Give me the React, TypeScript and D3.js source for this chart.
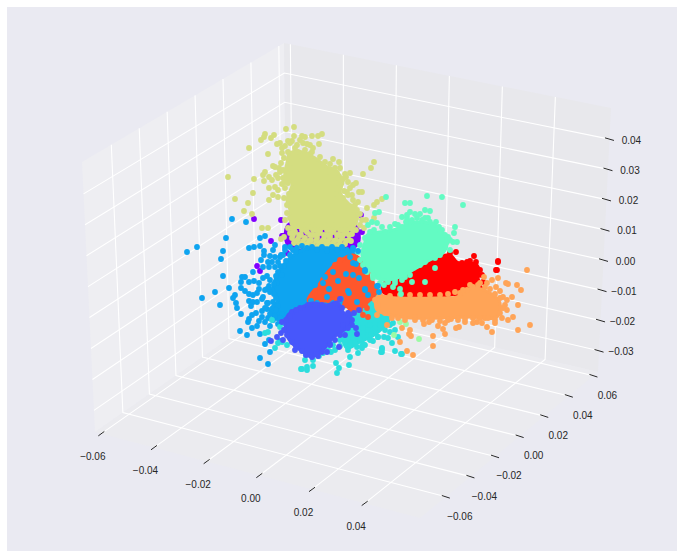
import React from "react";
import * as d3 from "d3";

type Pt = [number, number];

const WIDTH = 683;
const HEIGHT = 558;

// axis ranges and ticks
const xRange = [-0.0624, 0.061];
const yRange = [-0.081, 0.0637];
const zRange = [-0.037, 0.0503];
const xTicks = [-0.06, -0.04, -0.02, 0, 0.02, 0.04];
const yTicks = [-0.06, -0.04, -0.02, 0, 0.02, 0.04, 0.06];
const zTicks = [-0.03, -0.02, -0.01, 0, 0.01, 0.02, 0.03, 0.04];

// The clusters are read in the projected view plane: u to the right, v upward.
const purpleCore: Pt[] = [[-52,55],[15,55],[17,35],[-50,32]];
const purpleDots: Pt[] = [[-86,61],[-59,60],[-69,39],[-58,44],[13,41],[15,42],[-57,44],[-83,14],[-80,9],[-53,27],[-43,26],[-47,20],[-48,15],[14,41],[22,48],[32,47],[21,65]];

const khakiCore: Pt[] = [[-50,127],[-37,128],[-25,122],[-13,113],[-5,110],[3,98],[0,88],[8,77],[15,72],[17,60],[13,53],[-20,52],[-48,55],[-50,70],[-53,80],[-48,97],[-55,103],[-53,117]];
const khakiDots: Pt[] = [[-46,153],[-54,151],[-75,146],[-76,143],[-66,145],[-69,142],[-79,140],[-38,144],[-35,143],[-46,144],[-52,139],[-48,139],[-28,144],[-22,144],[-18,146],[-60,137],[-63,136],[-91,132],[-72,126],[-58,132],[-58,127],[-43,135],[-37,137],[-33,136],[-21,136],[-27,132],[-28,128],[-7,121],[-1,118],[34,118],[31,112],[23,106],[-112,103],[-86,101],[-77,105],[-75,108],[-76,99],[-71,103],[-67,114],[-65,113],[-59,117],[10,107],[6,103],[16,97],[13,95],[8,85],[-71,92],[-87,87],[-65,93],[-62,90],[-67,85],[-62,83],[-71,80],[-105,81],[-92,77],[-96,69],[-88,66],[-78,52],[-72,52],[19,88],[22,88],[18,78],[27,72],[37,78],[42,81],[34,75],[34,62],[-59,41],[-56,43],[-52,52],[-53,67],[-50,137],[-52,128],[-57,110],[-20,123],[-3,107],[3,101],[-3,97],[4,89],[-5,86],[13,80],[12,70],[20,66],[-62,102],[-55,92],[-57,102],
[-56,122],[-60,108],[-64,105],[-52,112],[-55,98],[-58,96],[-51,86],[-56,82],[-53,75],[-50,62],[-55,60],[-48,112],[-40,124],[-30,126],[-35,130],[-42,128],[-45,132],[-55,134],[-40,140],[-30,135],[-15,118],[-10,116],[-5,112],[0,112],[-12,108],[5,106],[8,98],[10,92],[7,88],[3,82],[12,85],[15,75],[17,70],[22,60],[20,55],[24,52],[16,62],[26,60],[-52,97],[-61,112],[-68,100],
[-48,52],[-43,54],[-38,50],[-30,53],[-24,50],[-17,53],[-10,50],[-4,53],[3,50],[10,52],[16,50],
[-44,55],[-36,55],[-26,55],[-14,55],[-6,55],[6,55],
[-46,50],[-34,50],[-27,50],[-20,50],[-13,50],[-6,50],[0,50],[7,50],[13,50],
[-50,47],[-45,48],[-39,45],[-33,48],[-27,45],[-20,47],[-13,45],[-7,48],[-1,45],[6,47],[12,46],
[-47,45],[-41,45],[-30,45],[-23,45],[-16,45],[-10,45],[-3,45],[3,45],[9,45],
[-48,42],[-42,41],[-35,42],[-29,40],[-23,42],[-16,41],[-10,42],[-4,40],[2,42],[9,40],
[-44,39],[-37,39],[-31,39],[-24,39],[-18,39],[-12,39],[-6,39],[0,39],[6,39],[11,39],
[-46,37],[-40,36],[-33,36],[-27,35],[-20,37],[-14,36],[-8,36],[-1,35],[5,36],
[-41,34],[-35,34],[-28,34],[-22,34],[-16,34],[-10,34],[-4,34],[2,34]];

const blueCore: Pt[] = [[-60,10],[-50,22],[-37,30],[7,30],[17,23],[25,0],[15,-25],[-27,-23],[-50,-33],[-62,-40],[-70,-30],[-62,-20],[-67,-7]];
const blueDots: Pt[] = [[-108,61],[-94,58],[-114,42],[-143,33],[-153,28],[-117,29],[-119,21],[-117,4],[-111,-8],[-125,-12],[-138,-18],[-120,-25],[-80,42],[-75,44],[-80,34],[-91,32],[-86,33],[-76,29],[-76,25],[-79,20],[-70,24],[-65,23],[-59,25],[-65,35],[-67,30],[-55,33],[-87,8],[-77,13],[-71,13],[-65,13],[-73,4],[-77,2],[-98,3],[-95,3],[-99,-2],[-91,-2],[-86,-1],[-81,-3],[-99,-8],[-95,-11],[-91,-14],[-87,-15],[-81,-9],[-71,-6],[-73,-9],[-83,-13],[-105,-15],[-107,-18],[-104,-23],[-103,-28],[-91,-21],[-87,-22],[-83,-22],[-89,-26],[-78,-19],[-73,-23],[-99,-34],[-84,-33],[-78,-31],[-73,-29],[-88,-35],[-91,-39],[-92,-42],[-81,-41],[-83,-46],[-88,-48],[-100,-51],[-93,-55],[-80,-54],[-75,-42],[-70,-46],[-75,-64],[-71,-60],[-70,-72],[-80,-78],[-72,-84],[-60,-61],
[-70,0],[-63,-3],[-77,-17],[-72,-23],[-67,-32],[-72,-38],[-57,25],[-47,30],[-60,23],[-43,32],[-33,32],[-23,30],[-13,29],[-3,30],[7,30],[13,30],
[-62,8],[-64,4],[-66,-4],[-68,-10],[-66,-14],[-64,-18],[-67,-22],[-62,-26],[-64,-30],[-58,-34],[-60,-38],[-65,-36],[-56,14],[-54,19],[-60,14],[-50,25],[-44,28],[-58,5],[-55,30],[-50,33],[-38,34],[-28,33],[-18,33],[-8,33],[2,33],[-70,-12],[-75,-10],[-75,-28],[-70,-34],[-78,-37],[-67,-40],[-62,-44],[-68,18],[-62,18],[-72,18]];
const blueFront: Pt[] = [[-7,8],[6,6],[13,5],[19,2],[25,10],[-15,3],[-17,-3],[-2,-1],[-11,-9],[8,-11],[9,-13],[25,-9],[28,-15],[-13,-17],[-29,-21],[-23,-23],[1,-19],[17,-22],[37,-6],[39,-12],[-25,-5],[13,32],[18,29],[10,23],[13,17],[16,16],[25,9],[25,-10],[38,-6]];

const cyanCore: Pt[] = [[15,-25],[37,-15],[47,-25],[50,-38],[37,-53],[20,-62],[7,-68],[3,-55]];
const cyanDots: Pt[] = [[-39,-89],[-33,-87],[-27,-86],[-35,-80],[-34,-75],[-27,-80],[-21,-76],[-17,-73],[-9,-72],[-4,-83],[-1,-88],[-3,-93],[9,-85],[8,-70],[10,-77],[18,-73],[17,-67],[22,-66],[23,-64],[31,-55],[23,-57],[38,-57],[44,-57],[48,-58],[42,-69],[41,-72],[55,-71],[62,-74],[52,-63],[0,-60],[-7,-65],[40,-45],[23,-48],[-57,-43],[-58,-62],[-53,-65],[53,-43],[-68,-40],[-75,-53],[-72,-52],[-60,-47],[-65,-68],[-62,-63],[-33,-90],[-38,-89],[42,-68],[42,-72],[61,-74],[33,-61],[38,-57],[25,-65],[22,-68],[20,-60],[43,-40],[50,-45],
[10,-45],[15,-55],[28,-50],[35,-48],[45,-35],[50,-33],[45,-50],[30,-60],[15,-63],[10,-65],[5,-62],[0,-66],[-5,-70],[-12,-70],[-20,-70],[13,-58],[35,-20],[42,-20],[40,-28],[55,-50],[58,-57],[30,-45],[50,-52]];

const orangeRedCore: Pt[] = [[-3,17],[13,25],[25,15],[30,0],[37,-10],[30,-20],[13,-32],[0,-18],[-20,-22],[-32,-20],[-20,-3],[-13,7]];
const orangeRedDots: Pt[] = [[27,-28],[23,-35],[28,-37],[-28,-18],[-25,-12],[-20,-8],[-17,0],[-10,8],[-5,15],[0,20],[8,22],[15,22],[22,18],[28,8],[32,-3],[35,-12],[33,-18],[25,-25],[20,-30],[10,-32],[5,-25],[-3,-20],[-12,-20],[-22,-20],[-30,-21]];

const lightGreenDots: Pt[] = [[54,-55],[79,-59],[66,-44],[60,-42]];

const redCore: Pt[] = [[75,13],[90,20],[110,25],[117,18],[137,15],[138,2],[140,-8],[110,-15],[77,-17],[43,-12],[45,-2],[67,7]];
const redDots: Pt[] = [[116,28],[134,24],[158,19],[156,10],[136,18],[137,12],[141,-9],[117,-16],[121,-16],[127,18],[122,17],[110,27],[97,20],[135,-2],[138,5],[133,-8],[127,-12],[97,-17],[73,-13],[158,18],[157,10],
[70,10],[80,17],[85,20],[103,22],[125,15],[130,19],[140,10],[142,5],[143,-2],[138,-10],[130,-12],[120,-14],[105,-17],[90,-18],[83,-18],[60,-15],[50,-14]];

const orangeCore: Pt[] = [[37,-17],[57,-18],[97,-18],[117,-17],[133,-8],[150,-13],[160,-23],[157,-37],[130,-37],[100,-38],[70,-38],[50,-35],[37,-30]];
const orangeDots: Pt[] = [[187,10],[144,3],[152,0],[158,2],[147,-3],[166,-3],[168,-4],[177,-5],[181,-10],[156,-7],[160,-11],[163,-17],[172,-17],[167,-20],[178,-25],[165,-25],[167,-30],[173,-37],[168,-40],[162,-38],[190,-45],[178,-50],[152,-52],[147,-47],[142,-43],[137,-42],[133,-43],[125,-42],[119,-47],[116,-48],[111,-39],[105,-43],[105,-54],[103,-49],[98,-46],[93,-56],[93,-66],[89,-42],[84,-44],[75,-37],[70,-50],[69,-54],[71,-56],[62,-48],[60,-62],[67,-71],[73,-75],[47,-45],[37,-35],[155,-43],[145,-38],[120,-13],[127,-10],[133,-7],[140,-3],
[40,-15],[50,-16],[60,-15],[70,-15],[80,-15],[90,-15],[100,-15],[108,-14],[115,-12],[123,-10],[130,-5],[138,-5],[145,-7],[150,-9],[155,-14],[160,-18],[163,-28],[160,-33],[155,-40],[148,-38],[140,-38],[133,-38],[125,-39],[118,-40],[108,-40],[100,-41],[92,-40],[83,-40],[75,-40],[65,-40],[58,-38],[52,-38],[45,-33],[38,-25],[35,-20]];

const mintCore: Pt[] = [[27,45],[53,50],[77,58],[98,53],[107,37],[103,27],[90,20],[73,10],[60,3],[43,0],[30,10],[22,25],[25,38]];
const mintDots: Pt[] = [[46,83],[65,77],[70,77],[87,84],[102,83],[123,75],[85,70],[90,69],[70,68],[67,65],[39,68],[35,67],[55,56],[32,58],[37,57],[42,53],[28,55],[77,62],[82,60],[90,58],[99,53],[115,53],[114,47],[108,43],[113,38],[117,38],[107,38],[110,30],[95,12],[85,-2],[72,-2],[60,-9],[53,-7],[44,-5],[62,0],[55,0],[67,62],[70,58],[61,-14],
[30,48],[34,50],[25,42],[20,35],[18,28],[20,20],[23,15],[27,8],[33,5],[38,3],[45,48],[50,53],[58,55],[62,53],[66,58],[72,60],[62,63],[75,66],[80,66],[85,62],[93,55],[96,58],[102,50],[105,45],[110,40],[100,48],[88,62],[105,33],[100,25],[95,22],[85,18],[80,15],[70,5],[65,3],[55,-3],[48,-2],[40,-3],[33,2]];

const indigoCore: Pt[] = [[-55,-45],[-52,-35],[-38,-27],[-27,-23],[-13,-25],[-3,-22],[3,-32],[12,-42],[7,-48],[-7,-58],[-17,-70],[-27,-76],[-40,-70],[-52,-58]];
const indigoDots: Pt[] = [[-48,-32],[-40,-28],[0,-19],[19,-30],[16,-48],[17,-54],[-1,-67],[-13,-72],[-28,-77],[-59,-53],[-57,-60],[14,-33],[10,-35],[3,-45],[12,-45],[-63,-57],[-69,-61],[-45,-70],[-34,-75],[-10,-64],[5,-55],[-58,-42],[-22,-76],
[-54,-40],[-56,-50],[-53,-55],[-48,-62],[-44,-66],[-38,-71],[-30,-75],[-24,-74],[-18,-72],[-10,-65],[-5,-60],[0,-55],[8,-48],[12,-40],[8,-33],[2,-28],[-5,-24],[-10,-26],[-18,-25],[-25,-25],[-32,-25],[-44,-30],[-50,-36]];

// matplotlib "rainbow" colour steps used by the ten classes
const PURPLE = "#8000ff", INDIGO = "#4757fb", BLUE = "#0ea4f0", CYAN = "#2bdddd", MINT = "#63fbc3",
  LIGHTGREEN = "#9cfba4", KHAKI = "#d4dd80", ORANGE = "#ffa457", ORANGERED = "#ff572c", RED = "#ff0000";

const layers: { color: string; core?: Pt[]; dots: Pt[] }[] = [
  { color: PURPLE, core: purpleCore, dots: purpleDots },
  { color: KHAKI, core: khakiCore, dots: khakiDots },
  { color: BLUE, core: blueCore, dots: blueDots },
  { color: CYAN, core: cyanCore, dots: cyanDots },
  { color: ORANGERED, core: orangeRedCore, dots: orangeRedDots },
  { color: LIGHTGREEN, dots: lightGreenDots },
  { color: RED, core: redCore, dots: redDots },
  { color: ORANGE, core: orangeCore, dots: orangeDots },
  { color: MINT, core: mintCore, dots: mintDots },
  { color: BLUE, dots: blueFront },
  { color: INDIGO, core: indigoCore, dots: indigoDots },
];

const viewU = d3.scaleLinear().domain([-340, 343]).range([0, WIDTH]);
const viewV = d3.scaleLinear().domain([-278, 280]).range([HEIGHT, 0]);

const sx = d3.scaleLinear().domain(xRange).range([0, 1]);
const sy = d3.scaleLinear().domain(yRange).range([0, 1]);
const sz = d3.scaleLinear().domain(zRange).range([0, 1]);

// pixel corners of the box: floor then top
const A: Pt = [95, 432], B: Pt = [287, 298], C: Pt = [598, 372], D: Pt = [420, 518];
const A2: Pt = [82, 162], B2: Pt = [284, 43], C2: Pt = [611, 108], D2: Pt = [409, 227];

const bil = (p00: Pt, p01: Pt, p11: Pt, p10: Pt, u: number, v: number): Pt => [
  (1 - u) * (1 - v) * p00[0] + (1 - u) * v * p01[0] + u * v * p11[0] + u * (1 - v) * p10[0],
  (1 - u) * (1 - v) * p00[1] + (1 - u) * v * p01[1] + u * v * p11[1] + u * (1 - v) * p10[1],
];
const project = (x: number, y: number, z: number): Pt => {
  const u = sx(x), v = sy(y), w = sz(z);
  const lo = bil(A, B, C, D, u, v);
  const hi = bil(A2, B2, C2, D2, u, v);
  return [lo[0] + (hi[0] - lo[0]) * w, lo[1] + (hi[1] - lo[1]) * w];
};

const [xMin, xMax] = xRange;
const [yMin, yMax] = yRange;
const [zMin, zMax] = zRange;

const fmt = (v: number) => {
  const s = Math.abs(v).toFixed(2);
  return v < 0 ? "\u2212" + s : s;
};
const poly = d3.line<Pt>();
const blob = d3.line<Pt>().x((d) => viewU(d[0])).y((d) => viewV(d[1])).curve(d3.curveCatmullRomClosed);
const FONT = "'Liberation Sans', Arial, sans-serif";
const INK = "#262626";
const R = 2.9;

function Tick({ at, dx, dy, lx, ly, label }: { at: Pt; dx: number; dy: number; lx: number; ly: number; label: string }) {
  return (
    <g>
      <line x1={at[0] - dx} y1={at[1] - dy} x2={at[0] + dx} y2={at[1] + dy} stroke={INK} strokeWidth={1} />
      <text x={at[0] + lx} y={at[1] + ly} textAnchor="middle" dominantBaseline="central" fontFamily={FONT} fontSize={10} fill={INK}>
        {label}
      </text>
    </g>
  );
}

export default function App() {
  return (
    <svg width={WIDTH} height={HEIGHT} style={{ position: "absolute", left: 0, top: 0, background: "#fff" }}>
      <rect x={7} y={7} width={670} height={544} fill="#eaeaf2" />
      <path d={poly([A, B, B2, A2])! + "Z"} fill="#eeeef2" />
      <path d={poly([B, C, C2, B2])! + "Z"} fill="#e8e8ec" />
      <path d={poly([A, B, C, D])! + "Z"} fill="#ebebef" />
      <g stroke="#fff" strokeWidth={1.1} fill="none">
        {xTicks.map((t) => (
          <path key={t} d={poly([project(t, yMin, zMin), project(t, yMax, zMin), project(t, yMax, zMax)])!} />
        ))}
        {yTicks.map((t) => (
          <path key={t} d={poly([project(xMax, t, zMin), project(xMin, t, zMin), project(xMin, t, zMax)])!} />
        ))}
        {zTicks.map((t) => (
          <path key={t} d={poly([project(xMin, yMin, t), project(xMin, yMax, t), project(xMax, yMax, t)])!} />
        ))}
      </g>
      {layers.map((l, i) => (
        <g key={i} fill={l.color}>
          {l.core && <path d={blob(l.core)!} stroke={l.color} strokeWidth={3} strokeLinejoin="round" />}
          {l.dots.map((d, j) => (
            <circle key={j} cx={viewU(d[0])} cy={viewV(d[1])} r={R} />
          ))}
        </g>
      ))}
      {xTicks.map((t) => (
        <Tick key={t} at={project(t, yMin, zMin)} dx={3} dy={-2.2} lx={-8.5} ly={23} label={fmt(t)} />
      ))}
      {yTicks.map((t) => (
        <Tick key={t} at={project(xMax, t, zMin)} dx={4} dy={1.3} lx={14} ly={19.5} label={fmt(t)} />
      ))}
      {zTicks.map((t) => (
        <Tick key={t} at={project(xMax, yMax, t)} dx={4.5} dy={1.3} lx={22} ly={1} label={fmt(t)} />
      ))}
    </svg>
  );
}
